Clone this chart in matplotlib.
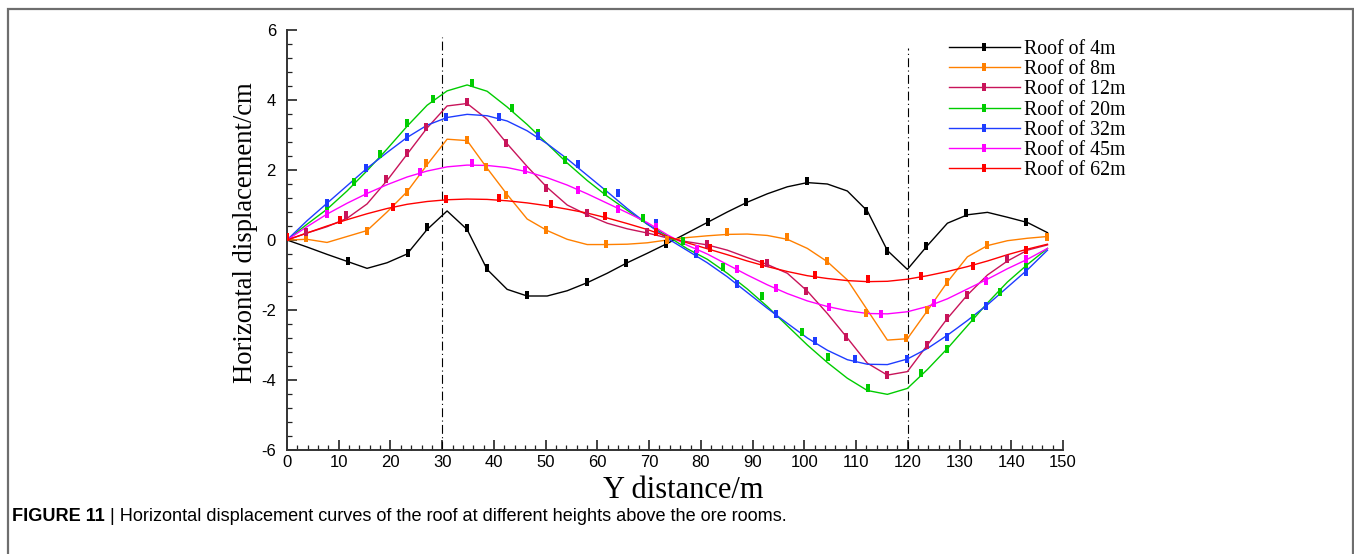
import numpy as np
import matplotlib
matplotlib.use("Agg")
import matplotlib.pyplot as plt
from matplotlib.patches import Rectangle
from matplotlib.ticker import MultipleLocator

plt.rcParams["axes.unicode_minus"] = False

# ---- data -------------------------------------------------------------
# calculation nodes along the Y direction (m)
nodes = np.linspace(0.0, 147.0, 39)

labels = ["Roof of 4m", "Roof of 8m", "Roof of 12m", "Roof of 20m",
          "Roof of 32m", "Roof of 45m", "Roof of 62m"]
colors = ["#000000", "#FF8000", "#C8145A", "#00CC00",
          "#1E3CFF", "#FF00FF", "#FF0000"]

# simulated horizontal displacement (cm) at each node
disp_4m = [0, -0.2, -0.41, -0.61, -0.81, -0.65, -0.4, 0.3, 0.83, 0.3,
           -0.84, -1.41, -1.6, -1.6, -1.45, -1.22, -0.95, -0.65, -0.38, -0.1,
           0.2, 0.5, 0.8, 1.08, 1.32, 1.52, 1.64, 1.6, 1.4, 0.83,
           -0.3, -0.84, -0.16, 0.48, 0.72, 0.79, 0.65, 0.5, 0.21]
disp_8m = [0, 0.02, -0.07, 0.1, 0.27, 0.8, 1.38, 2.15, 2.88, 2.84,
           2.05, 1.3, 0.6, 0.27, 0.02, -0.13, -0.13, -0.12, -0.08, 0.0,
           0.07, 0.12, 0.16, 0.17, 0.13, 0.02, -0.24, -0.62, -1.14, -2.0,
           -2.86, -2.82, -2.02, -1.2, -0.48, -0.16, -0.02, 0.05, 0.1]
disp_12m = [0, 0.2, 0.38, 0.62, 1.03, 1.7, 2.45, 3.2, 3.83, 3.9,
            3.45, 2.75, 2.1, 1.5, 1.0, 0.72, 0.48, 0.32, 0.2, 0.06,
            -0.05, -0.14, -0.29, -0.5, -0.7, -0.95, -1.46, -2.1, -2.8, -3.52,
            -3.86, -3.76, -3.0, -2.24, -1.57, -1.0, -0.6, -0.29, -0.14]
disp_20m = [0, 0.45, 0.88, 1.4, 1.98, 2.6, 3.25, 3.85, 4.26, 4.43,
            4.25, 3.8, 3.3, 2.75, 2.2, 1.7, 1.25, 0.85, 0.45, 0.12,
            -0.25, -0.55, -0.95, -1.4, -1.9, -2.45, -3.0, -3.5, -3.95, -4.3,
            -4.41, -4.24, -3.7, -3.1, -2.45, -1.8, -1.2, -0.7, -0.24]
disp_32m = [0, 0.55, 1.05, 1.55, 2.05, 2.5, 2.93, 3.28, 3.5, 3.59,
            3.55, 3.4, 3.12, 2.75, 2.32, 1.85, 1.38, 0.9, 0.46, 0.05,
            -0.3, -0.65, -1.05, -1.5, -1.95, -2.38, -2.8, -3.15, -3.42, -3.55,
            -3.56, -3.4, -3.1, -2.72, -2.3, -1.85, -1.35, -0.85, -0.29]
disp_45m = [0, 0.38, 0.74, 1.05, 1.33, 1.58, 1.8, 1.97, 2.09, 2.14,
            2.13, 2.07, 1.95, 1.78, 1.57, 1.32, 1.05, 0.78, 0.5, 0.15,
            -0.15, -0.4, -0.7, -1.0, -1.28, -1.53, -1.74, -1.9, -2.02, -2.1,
            -2.11, -2.05, -1.9, -1.68, -1.4, -1.12, -0.82, -0.55, -0.24]
disp_62m = [0, 0.2, 0.4, 0.58, 0.75, 0.9, 1.02, 1.1, 1.15, 1.17,
            1.16, 1.12, 1.06, 0.98, 0.88, 0.77, 0.63, 0.47, 0.3, 0.1,
            -0.08, -0.25, -0.42, -0.6, -0.76, -0.9, -1.02, -1.1, -1.16, -1.19,
            -1.18, -1.12, -1.02, -0.9, -0.76, -0.6, -0.42, -0.26, -0.12]

# monitoring points (Y position in m, displacement in cm)
pts_4m_x = [11.7, 23.3, 27.1, 34.7, 38.7, 46.3, 57.9, 65.6, 73.3, 81.3,
            88.8, 100.5, 112.0, 115.9, 123.6, 131.3, 142.9]
pts_4m_y = [-0.6, -0.38, 0.36, 0.33, -0.81, -1.57, -1.19, -0.65, -0.1, 0.52,
            1.1, 1.69, 0.83, -0.3, -0.16, 0.76, 0.52]
pts_8m_x = [3.7, 15.4, 23.1, 26.9, 34.7, 38.5, 42.4, 50.1, 61.7, 73.4,
            85.1, 96.7, 104.4, 112.0, 119.7, 123.7, 127.6, 135.4, 146.9]
pts_8m_y = [0.07, 0.27, 1.38, 2.21, 2.86, 2.1, 1.3, 0.28, -0.1, 0.0,
            0.24, 0.08, -0.6, -2.08, -2.81, -2.0, -1.19, -0.14, 0.1]
pts_12m_x = [3.7, 11.5, 19.2, 23.1, 26.9, 34.7, 42.4, 50.1, 58.0, 69.5,
             81.1, 92.7, 100.4, 108.1, 115.9, 123.7, 127.6, 131.5, 139.1]
pts_12m_y = [0.24, 0.71, 1.73, 2.48, 3.24, 3.95, 2.78, 1.5, 0.76, 0.22,
             -0.1, -0.67, -1.46, -2.76, -3.86, -3.0, -2.24, -1.57, -0.55]
pts_20m_x = [7.8, 12.9, 17.9, 23.1, 28.2, 35.8, 43.4, 48.5, 53.7, 61.4,
             68.9, 76.6, 84.3, 91.9, 99.6, 104.6, 112.3, 122.5, 127.6, 132.6,
             137.8, 142.9]
pts_20m_y = [0.93, 1.67, 2.45, 3.33, 4.03, 4.48, 3.76, 3.05, 2.3, 1.38,
             0.63, -0.04, -0.76, -1.6, -2.62, -3.35, -4.22, -3.81, -3.12, -2.24,
             -1.48, -0.76]
pts_32m_x = [7.8, 15.3, 23.1, 30.8, 41.0, 48.5, 56.3, 63.9, 71.4, 79.1,
             86.9, 94.5, 102.0, 109.7, 119.9, 127.6, 135.2, 142.9]
pts_32m_y = [1.07, 2.07, 2.95, 3.52, 3.52, 2.97, 2.17, 1.33, 0.48, -0.41,
             -1.26, -2.11, -2.89, -3.41, -3.4, -2.78, -1.89, -0.9]
pts_45m_x = [7.8, 15.3, 25.7, 35.8, 46.0, 56.3, 63.9, 71.4, 79.2, 86.9,
             94.5, 104.7, 114.9, 125.0, 135.2, 142.9]
pts_45m_y = [0.74, 1.33, 1.93, 2.21, 2.0, 1.44, 0.9, 0.38, -0.25, -0.84,
             -1.36, -1.9, -2.1, -1.79, -1.16, -0.55]
pts_62m_x = [0.0, 10.3, 20.4, 30.7, 41.0, 51.1, 61.4, 71.4, 81.7, 91.9,
             102.0, 112.3, 122.5, 132.6, 142.9]
pts_62m_y = [0.08, 0.56, 0.95, 1.18, 1.21, 1.04, 0.69, 0.23, -0.24, -0.69,
             -1.0, -1.11, -1.02, -0.74, -0.29]

curves = [disp_4m, disp_8m, disp_12m, disp_20m, disp_32m, disp_45m, disp_62m]
points = [(pts_4m_x, pts_4m_y), (pts_8m_x, pts_8m_y), (pts_12m_x, pts_12m_y),
          (pts_20m_x, pts_20m_y), (pts_32m_x, pts_32m_y),
          (pts_45m_x, pts_45m_y), (pts_62m_x, pts_62m_y)]

# ore room boundaries (m)
boundaries = [30, 120]
boundary_tops = [5.8, 5.5]

# ---- figure -----------------------------------------------------------
W, H = 1354, 554
fig = plt.figure(figsize=(W / 100, H / 100), dpi=100)
ax = fig.add_axes([287 / W, 1 - 450 / H, 776 / W, 420 / H])

bar = [(-0.25, -0.5), (0.25, -0.5), (0.25, 0.5), (-0.25, 0.5), (-0.25, -0.5)]

for lab, col, yc, (px, py) in zip(labels, colors, curves, points):
    ax.plot(nodes, yc, color=col, lw=1.0, zorder=3)
    ax.plot(px, py, ls="none", marker=bar, ms=6.0, mfc=col, mec=col,
            mew=0, zorder=4)

for bx, top in zip(boundaries, boundary_tops):
    ax.plot([bx, bx], [-6, top], color="black", lw=0.8,
            ls=(0, (8, 3, 1, 3)), zorder=2)

ax.set_xlim(0, 150)
ax.set_ylim(-6, 6)
ax.xaxis.set_major_locator(MultipleLocator(10))
ax.xaxis.set_minor_locator(MultipleLocator(2))
ax.yaxis.set_major_locator(MultipleLocator(2))
ax.yaxis.set_minor_locator(MultipleLocator(0.4))

for side in ("top", "right"):
    ax.spines[side].set_visible(False)
for side in ("left", "bottom"):
    ax.spines[side].set_linewidth(1.4)
    ax.spines[side].set_color("#333333")

tick_font = ["Liberation Sans", "DejaVu Sans"]
ax.tick_params(axis="both", which="both", direction="in", color="#222222")
ax.tick_params(axis="both", which="major", length=7, width=1.2)
ax.tick_params(axis="both", which="minor", length=3.6, width=0.9)
ax.tick_params(axis="x", which="major", pad=3.5)
ax.tick_params(axis="y", which="major", pad=8)
for t in ax.get_xticklabels() + ax.get_yticklabels():
    t.set_family(tick_font)
    t.set_fontsize(12)

serif = ["Liberation Serif", "DejaVu Serif"]
ax.set_xlabel("Y distance/m", family=serif, fontsize=22)
ax.set_ylabel("Horizontal displacement/cm", family=serif, fontsize=19.2)
ax.xaxis.set_label_coords(0.51, -0.062)
ax.yaxis.set_label_coords(-0.037, 0.517)

# legend entries: line with a bar marker in the middle
handles = []
for lab, col in zip(labels, colors):
    h, = ax.plot([], [], color=col, lw=1.0, marker=bar, ms=6.0, mfc=col,
                 mec=col, mew=0, label=lab)
    handles.append(h)
ax.legend(handles=handles, loc="upper left",
          bbox_to_anchor=(949 / W, 1 - 40 / H), bbox_transform=fig.transFigure,
          frameon=False, numpoints=1, handlelength=3.55, handletextpad=0.25,
          labelspacing=0.06, borderaxespad=0, borderpad=0,
          prop={"family": serif, "size": 14.3})

# caption
cap_font = ["Liberation Sans", "DejaVu Sans"]
t1 = fig.text(12 / W, 1 - 521 / H, "FIGURE 11", family=cap_font,
              fontsize=13.1, fontweight="bold", va="baseline", ha="left")
fig.canvas.draw()
bb = t1.get_window_extent()
fig.text(bb.x1 / W, 1 - 521 / H,
         " | Horizontal displacement curves of the roof at different heights above the ore rooms.",
         family=cap_font, fontsize=13.1, va="baseline", ha="left")

# outer frame
fig.add_artist(Rectangle((8 / W, -0.05), (1353 - 8) / W, (1 - 9 / H) + 0.05,
                         transform=fig.transFigure, fill=False,
                         edgecolor="#6e6e6e", lw=1.6))

fig.savefig("out.png", dpi=100)
